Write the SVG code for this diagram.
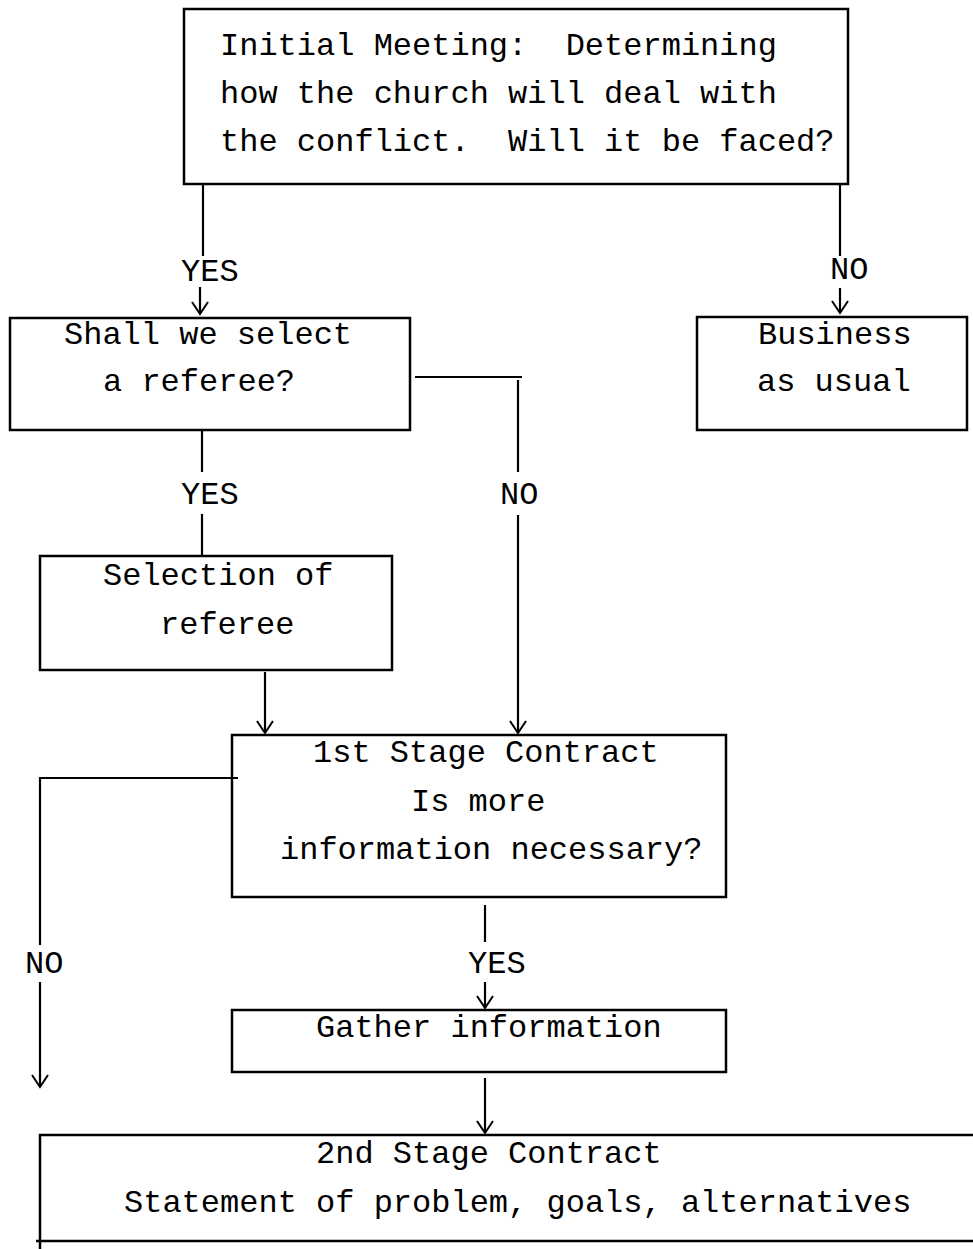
<svg xmlns="http://www.w3.org/2000/svg" width="973" height="1249" viewBox="0 0 973 1249">
<style>
text{font-family:"Liberation Mono","Courier New",monospace;font-size:32px;fill:#000;white-space:pre}
.box{fill:none;stroke:#000;stroke-width:2.5}
.ln{fill:none;stroke:#000;stroke-width:2.2}
.ar{marker-end:url(#ah)}
</style>
<defs>
<marker id="ah" markerUnits="userSpaceOnUse" viewBox="-14 -10 16 20" markerWidth="16" markerHeight="20" refX="0" refY="0" orient="auto" overflow="visible">
<path d="M-12,-8 L0,0 L-12,8" fill="none" stroke="#000" stroke-width="2"/>
</marker>
</defs>
<rect width="973" height="1249" fill="#fff"/>
<g id="connectors">
<line class="ln" x1="203" y1="184" x2="203" y2="256"/>
<line class="ln ar" x1="200" y1="287" x2="200" y2="314"/>
<line class="ln" x1="840" y1="184" x2="840" y2="256"/>
<line class="ln ar" x1="840" y1="288" x2="840" y2="313"/>
<polyline class="ln" points="415,377 522,377"/>
<line class="ln" x1="518" y1="380" x2="518" y2="472"/>
<line class="ln ar" x1="518" y1="515" x2="518" y2="733"/>
<line class="ln" x1="202" y1="430" x2="202" y2="472"/>
<line class="ln" x1="202" y1="514" x2="202" y2="556"/>
<line class="ln ar" x1="265" y1="672" x2="265" y2="733"/>
<polyline class="ln" points="238,778 40,778 40,945"/>
<line class="ln ar" x1="40" y1="982" x2="40" y2="1087"/>
<line class="ln" x1="485" y1="905" x2="485" y2="942"/>
<line class="ln ar" x1="485" y1="982" x2="485" y2="1008"/>
<line class="ln ar" x1="485" y1="1078" x2="485" y2="1133"/>
<text x="181" y="281">YES</text>
<text x="830" y="279">NO</text>
<text x="181" y="504">YES</text>
<text x="500" y="504">NO</text>
<text x="25" y="973">NO</text>
<text x="468" y="973">YES</text>
</g>
<g id="initial-meeting">
<rect class="box" x="184" y="9" width="664" height="175"/>
<text x="220" y="55">Initial Meeting:  Determining</text>
<text x="220" y="103">how the church will deal with</text>
<text x="220" y="151">the conflict.  Will it be faced?</text>
</g>
<g id="select-referee">
<rect class="box" x="10" y="318" width="400" height="112"/>
<text x="64" y="344">Shall we select</text>
<text x="103" y="391">a referee?</text>
</g>
<g id="business-as-usual">
<rect class="box" x="697" y="317" width="270" height="113"/>
<text x="758" y="344">Business</text>
<text x="757" y="391">as usual</text>
</g>
<g id="selection-of-referee">
<rect class="box" x="40" y="556" width="352" height="114"/>
<text x="103" y="585">Selection of</text>
<text x="160" y="634">referee</text>
</g>
<g id="first-stage">
<rect class="box" x="232" y="735" width="494" height="162"/>
<text x="313" y="762">1st Stage Contract</text>
<text x="411" y="811">Is more</text>
<text x="280" y="859">information necessary?</text>
</g>
<g id="gather-information">
<rect class="box" x="232" y="1010" width="494" height="62"/>
<text x="316" y="1037">Gather information</text>
</g>
<g id="second-stage">
<path class="box" d="M973,1135 H40 V1249 M36,1241 H973"/>
<text x="316" y="1163">2nd Stage Contract</text>
<text x="124" y="1212">Statement of problem, goals, alternatives</text>
</g>
</svg>
